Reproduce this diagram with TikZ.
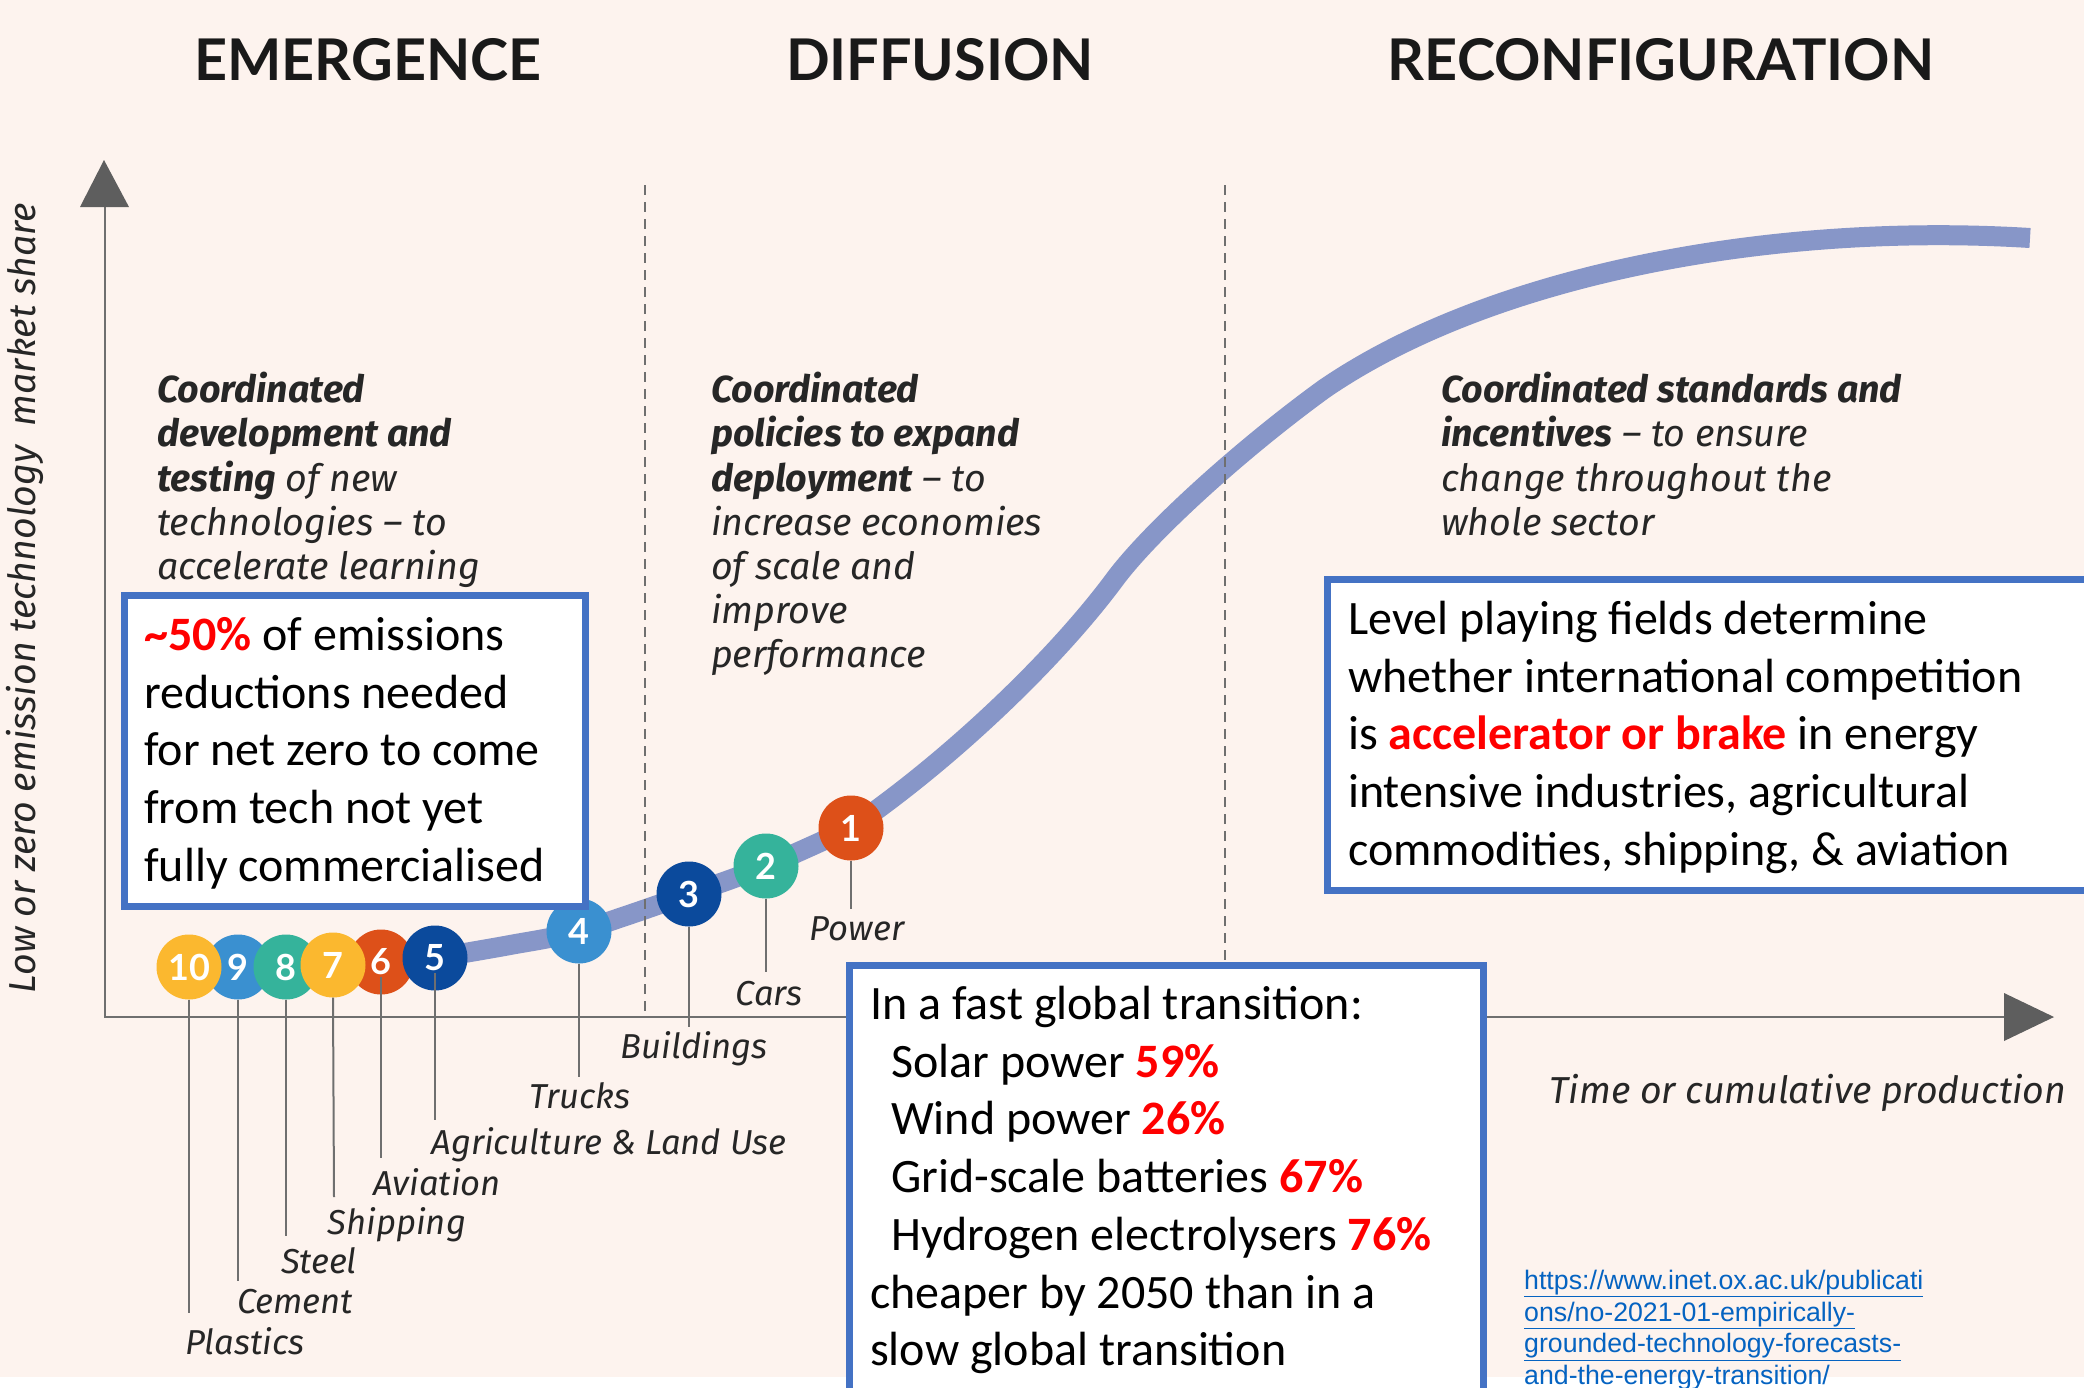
\documentclass[tikz,border=0pt]{standalone}
\usepackage{fontspec}
\setmainfont{Carlito}
\newfontfamily\labf{Fira Sans}
\newfontfamily\headf{Lato}
\newfontfamily\linkf{Liberation Sans}
\definecolor{bgc}{HTML}{FDF3EE}
\definecolor{boxb}{HTML}{4472C4}
\definecolor{curvec}{HTML}{8796C8}
\definecolor{axisc}{HTML}{6F6F6F}
\definecolor{yel}{HTML}{FBB82F}
\definecolor{blu}{HTML}{3A90D0}
\definecolor{tea}{HTML}{35B39B}
\definecolor{ora}{HTML}{DD5019}
\definecolor{nav}{HTML}{0B4A9C}
\definecolor{linkc}{HTML}{0563C1}
\definecolor{txt}{HTML}{262626}
\newcommand{\hot}[1]{\textcolor{red}{\textbf{#1}}}
\tikzset{
  x=1pt,y=-1pt,
  heading/.style={inner sep=0pt,font=\headf\fontsize{57.5}{60}\selectfont\bfseries,text=black!90},
  blurb/.style={inner sep=0pt,anchor=north west,align=left,text=txt,font=\labf\fontsize{37.6}{44.2}\selectfont\itshape},
  tag/.style={inner sep=0pt,text=txt,font=\labf\fontsize{34.6}{38}\selectfont\itshape},
  axislab/.style={inner sep=0pt,text=txt,font=\labf\fontsize{37.5}{40}\selectfont\itshape},
  dot/.style={circle,minimum size=65pt,inner sep=0pt,fill=#1,text=white,font=\headf\fontsize{36}{38}\selectfont\bfseries},
  stem/.style={draw=axisc,line width=2pt},
  callout/.style={draw=boxb,fill=white,line width=7pt,anchor=north west,rectangle,outer sep=0pt},
  calltext/.style={inner sep=0pt,anchor=north west,align=left,text=black,font=\fontsize{48}{57.7}\selectfont},
  axisline/.style={draw=axisc,line width=2.4pt},
  tip/.style={fill=axisc!85!black,draw=none},
  divider/.style={draw=axisc,line width=1.6pt,dash pattern=on 10pt off 7pt},
}
\begin{document}
\begin{tikzpicture}
\useasboundingbox (0,0) rectangle (2084,1387);
\fill[bgc] (0,0) rectangle (2084,1377);

% curve
\draw[curvec,line width=20pt] plot[smooth,tension=0.5] coordinates {
 (435,958) (510,945) (579,931) (689,894) (766,866) (851,828)}
 .. controls (950,760) and (1055,660) .. (1115,579)
 .. controls (1150,532) and (1240,450) .. (1324,389)
 .. controls (1490,275) and (1770,222) .. (2030,238);

% axes
\coordinate (origin) at (105,1017);
\coordinate (ytop) at (105,190);
\coordinate (xend) at (2010,1017);
\draw[axisline] (ytop) -- (origin) -- (xend);
\fill[tip] (104,160) -- (80,207) -- (129,207) -- cycle;
\fill[tip] (2054,1017) -- (2004,993) -- (2004,1041) -- cycle;

% dividers
\coordinate (d1t) at (645,185); \coordinate (d1b) at (645,1017);
\coordinate (d2t) at (1225,185); \coordinate (d2b) at (1225,965);
\draw[divider] (d1t) -- (d1b);
\draw[divider] (d2t) -- (d2b);

% stems ends
\coordinate (e10) at (189,1313);
\coordinate (e9) at (238,1281);
\coordinate (e8) at (286,1236);
\coordinate (e7) at (334,1197);
\coordinate (e6) at (381,1158);
\coordinate (e5) at (435,1120);
\coordinate (e4) at (579,1077);
\coordinate (e3) at (689,1027);
\coordinate (e2) at (766,972);
\coordinate (e1) at (851,909);

% dots
\node[dot=blu] (c9) at (238,967) {9};
\node[dot=yel] (c10) at (189,967) {10};
\node[dot=tea] (c8) at (286,967) {8};
\node[dot=ora] (c6) at (381,962) {6};
\node[dot=yel] (c7) at (333,965) {7};
\node[dot=nav] (c5) at (435,958) {5};
\node[dot=blu] (c4) at (579,931) {4};
\node[dot=nav] (c3) at (689,894) {3};
\node[dot=tea] (c2) at (766,866) {2};
\node[dot=ora] (c1) at (851,828) {1};

\foreach \n in {10,9,8,7,4,3,2,1}{\draw[stem] (c\n.south) -- (e\n);}
\draw[stem] ([yshift=-15pt]c6.center) -- (e6);
\draw[stem] ([yshift=-15pt]c5.center) -- (e5);

% headings
\node[heading] (h1) at (368,60) {EMERGENCE};
\node[heading] (h2) at (940,60) {DIFFUSION};
\node[heading] (h3) at (1661,60) {RECONFIGURATION};

% axis labels
\node[axislab,rotate=90] (ylab) at (25,598) {Low or zero emission technology\ \ market share};
\node[axislab] (xlab) at (1808,1093) {Time or cumulative production};

% blurbs
\node[blurb] (b1) at (157,372) {\textbf{Coordinated}\\\textbf{development and}\\\textbf{testing} of new\\technologies – to\\accelerate learning};
\node[blurb] (b2) at (711,372) {\textbf{Coordinated}\\\textbf{policies to expand}\\\textbf{deployment} – to\\increase economies\\of scale and\\improve\\performance};
\node[blurb] (b3) at (1441,372) {\textbf{Coordinated standards and}\\\textbf{incentives} – to ensure\\change throughout the\\whole sector};

% tags
\node[tag] (t1) at (857,929) {Power};
\node[tag] (t2) at (769,994) {Cars};
\node[tag] (t3) at (694,1049) {Buildings};
\node[tag] (t4) at (580,1096) {Trucks};
\node[tag] (t5) at (609,1145) {Agriculture \& Land Use};
\node[tag] (t6) at (437,1182) {Aviation};
\node[tag] (t7) at (397,1225) {Shipping};
\node[tag] (t8) at (319,1261) {Steel};
\node[tag] (t9) at (295,1302) {Cement};
\node[tag] (t10) at (245,1341) {Plastics};

% callouts
\node[callout,minimum width=461pt,minimum height=311pt] (box1) at (124,595) {};
\node[calltext] (box1t) at (144,617) {\hot{\textasciitilde50\%} of emissions\\reductions needed\\for net zero to come\\from tech not yet\\fully commercialised};
\node[callout,minimum width=780pt,minimum height=311pt] (box2) at (1327,579) {};
\node[calltext] (box2t) at (1348,601) {Level playing fields determine\\whether international competition\\is \hot{accelerator or brake} in energy\\intensive industries, agricultural\\commodities, shipping, \& aviation};
\node[callout,minimum width=634pt,minimum height=440pt] (box3) at (849,965) {};
\node[calltext] (box3t) at (870,986) {In a fast global transition:\\\hspace*{21pt}Solar power \hot{59\%}\\\hspace*{21pt}Wind power \hot{26\%}\\\hspace*{21pt}Grid-scale batteries \hot{67\%}\\\hspace*{21pt}Hydrogen electrolysers \hot{76\%}\\cheaper by 2050 than in a\\slow global transition};

% link
\node[inner sep=0pt,anchor=north west,align=left,text=linkc,font=\linkf\fontsize{26.7}{31.6}\selectfont] (link) at (1524,1270) {\underline{https://www.inet.ox.ac.uk/publicati}\\\underline{ons/no-2021-01-empirically-}\\\underline{grounded-technology-forecasts-}\\\underline{and-the-energy-transition/}};
\end{tikzpicture}
\end{document}
